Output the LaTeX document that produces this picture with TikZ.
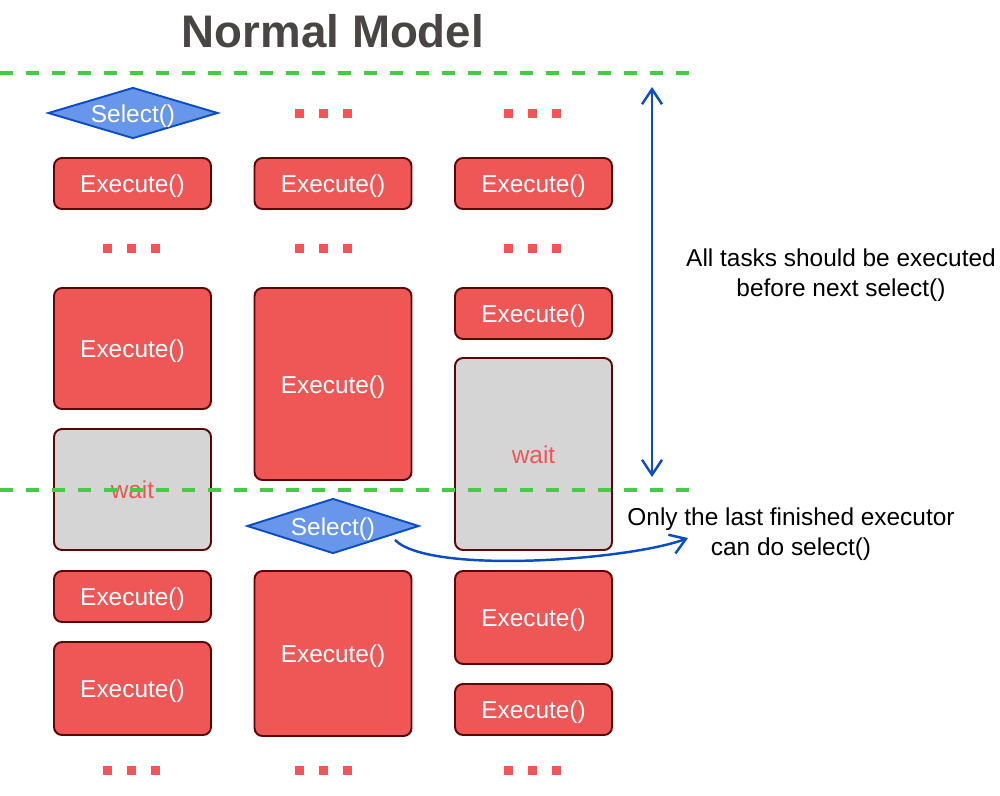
\documentclass[tikz,border=0pt]{standalone}
\usepackage{fontspec}
\setmainfont{Liberation Sans}
\usepackage{tikz}
\usetikzlibrary{positioning, shapes.geometric, arrows.meta}

\definecolor{taskred}{HTML}{EF5656}
\definecolor{taskborder}{HTML}{5C0606}
\definecolor{waitgray}{HTML}{D5D5D5}
\definecolor{selblue}{HTML}{6896EA}
\definecolor{selborder}{HTML}{0B4EC2}
\definecolor{linegreen}{HTML}{44CC44}
\definecolor{titlegray}{HTML}{4A4545}

\begin{document}
\begin{tikzpicture}[x=0.02cm, y=-0.02cm,
  every node/.style={font=\fontsize{13.9}{17}\selectfont},
  task node/.style={rectangle, rounded corners=0.16cm, draw=taskborder, line width=1.1pt,
    fill=taskred, text=white, minimum width=3.14cm, text height=10.6pt, text depth=0pt},
  wait node/.style={task node, fill=waitgray, text=taskred},
  select node/.style={diamond, aspect=3.4, inner sep=1pt, draw=selborder, line width=1.1pt,
    fill=selblue, text=white, text height=10.6pt, text depth=0pt},
  dot/.style={rectangle, fill=taskred, inner sep=0pt, minimum size=0.18cm},
  phase line/.style={draw=linegreen, line width=2pt, dash pattern=on 0.26cm off 0.26cm},
  note arrow/.style={draw=selborder, line width=1.4pt, -{Straight Barb[length=0.3cm, width=0.4cm]}},
  note/.style={align=center, text=black}]

\useasboundingbox (0,0) rectangle (1000,795);

\node[font=\fontsize{26}{30}\bfseries, text=titlegray] (title) at (333,31) {Normal Model};

% first executor
\node[select node, minimum width=3.4cm, minimum height=1.02cm] (sel1) at (133,113) {Select()};
\node[task node, minimum height=1.02cm] (a1) at (132.5,183.5) {Execute()};
\node[task node, minimum height=2.42cm] (a2) at (132.5,348.5) {Execute()};
\node[wait node, minimum height=2.42cm] (a3) at (132.5,489.5) {wait};
\node[task node, minimum height=1.02cm] (a4) at (132.5,596.5) {Execute()};
\node[task node, minimum height=1.86cm] (a5) at (132.5,688.5) {Execute()};

% second executor
\node[task node, minimum height=1.02cm] (b1) at (333,183.5) {Execute()};
\node[task node, minimum height=3.84cm] (b2) at (333,384) {Execute()};
\node[select node, minimum width=3.44cm, minimum height=1.1cm] (sel2) at (333,526) {Select()};
\node[task node, minimum height=3.3cm] (b3) at (333,653.5) {Execute()};

% third executor
\node[task node, minimum height=1.02cm] (c1) at (533.5,183.5) {Execute()};
\node[task node, minimum height=1.02cm] (c2) at (533.5,313.5) {Execute()};
\node[wait node, minimum height=3.84cm] (c3) at (533.5,454) {wait};
\node[task node, minimum height=1.86cm] (c4) at (533.5,617.5) {Execute()};
\node[task node, minimum height=1.02cm] (c5) at (533.5,709.5) {Execute()};

% dots
\foreach \px/\py in {131/248, 131/770, 323/113, 323/248, 323/770, 532/113, 532/248, 532/770}{
  \node[dot] at (\px-24,\py) {};
  \node[dot] at (\px,\py) {};
  \node[dot] at (\px+24,\py) {};
}

% phase lines
\coordinate (top l) at (0,73);
\coordinate (top r) at (690,73);
\coordinate (bot l) at (0,490);
\coordinate (bot r) at (690,490);
\path[phase line] (top l) -- (top r);
\path[phase line] (bot l) -- (bot r);

% notes
\node[note] (alltasks) at (841,275) {All tasks should be executed\\before next select()};
\node[note] (lastone) at (791,534) {Only the last finished executor\\can do select()};

\coordinate (span top) at (652,87);
\coordinate (span bot) at (652,477);
\coordinate (sel out) at (395,540);
\coordinate (sel note) at (688,538);
\draw[note arrow, {Straight Barb[length=0.3cm, width=0.4cm]}-{Straight Barb[length=0.3cm, width=0.4cm]}] (span top) -- (span bot);
\draw[note arrow] (sel out) .. controls (430,575) and (630,560) .. (sel note);

\end{tikzpicture}
\end{document}
